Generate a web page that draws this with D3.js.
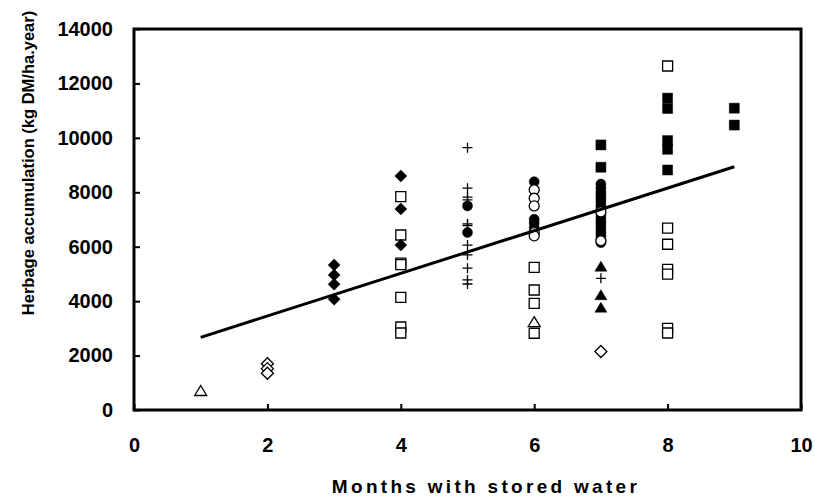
<!DOCTYPE html>
<html>
<head>
<meta charset="utf-8">
<script src="https://cdn.jsdelivr.net/npm/d3@7"></script>
<style>
  body { margin: 0; background: #fff; }
  svg { display: block; }
  text { font-family: "Liberation Sans", Arial, sans-serif; font-weight: bold; fill: #000; }
</style>
</head>
<body>
<svg id="chart"></svg>
<script>
// ticks
var xTicks = [0, 2, 4, 6, 8, 10];
var yTicks = [0, 2000, 4000, 6000, 8000, 10000, 12000, 14000];

// points [months, kg DM/ha.year], one array per marker
var openTriangle = [[1, 680], [6, 3210]];
var openDiamond = [[2, 1700], [2, 1520], [2, 1350], [7, 2150]];
var filledDiamond = [[3, 5330], [3, 4960], [3, 4620], [3, 4070],
                     [4, 8600], [4, 7390], [4, 6060]];
var openSquare = [[4, 7840], [4, 6430], [4, 5400], [4, 5340], [4, 4140], [4, 3050], [4, 2830],
                  [6, 5240], [6, 4410], [6, 3920], [6, 2820],
                  [8, 12640], [8, 6680], [8, 6090], [8, 5170], [8, 4990], [8, 3000], [8, 2830]];
var cross = [[5, 9640], [5, 8150], [5, 7820], [5, 7720], [5, 6840], [5, 6780], [5, 6060],
             [5, 5700], [5, 5210], [5, 4780], [5, 4630], [7, 4840]];
var filledCircle = [[5, 7500], [5, 6520],
                    [6, 8390], [6, 7010], [6, 6870], [6, 6700],
                    [7, 8300], [7, 8150], [7, 8000], [7, 7880], [7, 7760], [7, 7640], [7, 7500],
                    [7, 7380], [7, 7150], [7, 7020], [7, 6900], [7, 6780], [7, 6650], [7, 6520],
                    [7, 6400], [7, 6250], [7, 6150]];
var openCircle = [[6, 8090], [6, 7780], [6, 7500], [6, 6520], [6, 6400], [7, 7280], [7, 6220]];
var filledTriangle = [[7, 5250], [7, 4200], [7, 3740]];
var filledSquare = [[7, 9740], [7, 8920], [8, 11460], [8, 11080], [8, 9900], [8, 9580], [8, 8820],
                    [9, 11090], [9, 10470]];

// fitted line end points
var trendLine = [[1, 2670], [9, 8940]];

var W = 815, H = 497;
var svg = d3.select("#chart").attr("width", W).attr("height", H);

var x = d3.scaleLinear().domain([0, 10]).range([134, 801]);
var y = d3.scaleLinear().domain([0, 14000]).range([410, 29]);

// marker shapes
var s = 5;
var shapes = {
  square: "M" + (-s) + "," + (-s) + "h" + 2 * s + "v" + 2 * s + "h" + (-2 * s) + "Z",
  diamond: "M0," + (-s - 1) + "L" + (s + 1) + ",0L0," + (s + 1) + "L" + (-s - 1) + ",0Z",
  triangle: "M0," + (-s - 1) + "L" + (s + 1) + "," + (s - 1) + "L" + (-s - 1) + "," + (s - 1) + "Z",
  circle: d3.symbol(d3.symbolCircle, Math.PI * s * s)(),
  cross: "M" + (-s) + ",0H" + s + "M0," + (-s) + "V" + s
};

function drawSeries(data, shape, filled) {
  svg.append("g").selectAll("path")
    .data(data)
    .enter().append("path")
    .attr("transform", function(d) { return "translate(" + x(d[0]) + "," + y(d[1]) + ")"; })
    .attr("d", shapes[shape])
    .attr("fill", filled ? "#000" : (shape == "cross" ? "none" : "#fff"))
    .attr("stroke", "#000")
    .attr("stroke-width", filled ? 0.5 : 1.3);
}

drawSeries(openSquare, "square", false);
drawSeries(filledSquare, "square", true);
drawSeries(filledDiamond, "diamond", true);
drawSeries(openDiamond, "diamond", false);
drawSeries(openTriangle, "triangle", false);
drawSeries(filledTriangle, "triangle", true);
drawSeries(cross, "cross", false);
drawSeries(filledCircle, "circle", true);
drawSeries(openCircle, "circle", false);

// trend line
svg.append("path")
  .datum(trendLine)
  .attr("d", d3.line().x(function(d) { return x(d[0]); }).y(function(d) { return y(d[1]); }))
  .attr("stroke", "#000")
  .attr("stroke-width", 3)
  .attr("fill", "none");

// axes with inward ticks
var xAxis = svg.append("g")
  .attr("transform", "translate(0,410)")
  .call(d3.axisBottom(x).tickValues(xTicks).tickSize(-6).tickPadding(28).tickFormat(d3.format("d")));
var yAxis = svg.append("g")
  .attr("transform", "translate(134,0)")
  .call(d3.axisLeft(y).tickValues(yTicks).tickSize(-6).tickPadding(21).tickFormat(d3.format("d")));

[xAxis, yAxis].forEach(function(a) {
  a.select(".domain").remove();
  a.selectAll("line").attr("stroke", "#000").attr("stroke-width", 2);
  a.selectAll("text").style("font-size", "20px");
});

// frame
svg.append("rect")
  .attr("x", 134).attr("y", 29)
  .attr("width", 801 - 134).attr("height", 410 - 29)
  .attr("fill", "none")
  .attr("stroke", "#000")
  .attr("stroke-width", 3);

// axis titles
svg.append("text")
  .attr("x", 486).attr("y", 493)
  .attr("text-anchor", "middle")
  .style("font-size", "19px")
  .style("letter-spacing", "3.3px")
  .text("Months with stored water");

svg.append("text")
  .attr("transform", "translate(34,163) rotate(-90)")
  .attr("text-anchor", "middle")
  .style("font-size", "16.5px")
  .text("Herbage accumulation (kg DM/ha.year)");
</script>
</body>
</html>
